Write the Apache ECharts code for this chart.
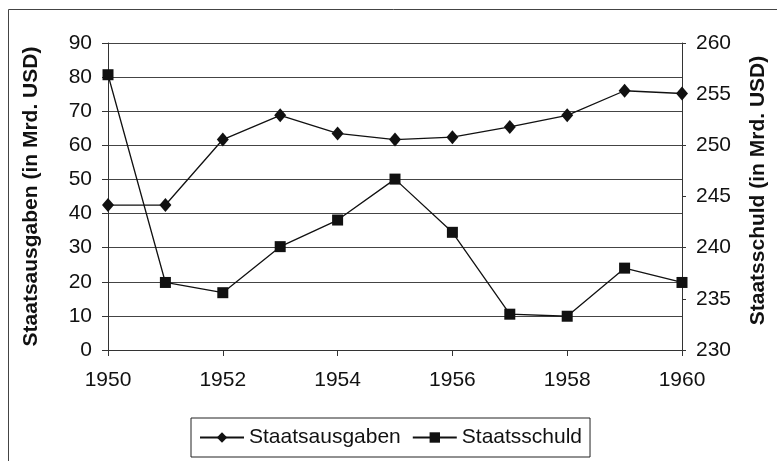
<!DOCTYPE html>
<html lang="de">
<head>
    <meta charset="UTF-8">
    <title>Staatsausgaben und Staatsschuld</title>
    <script src="https://cdn.jsdelivr.net/npm/echarts@6.0.0/dist/echarts.min.js"></script>
    <style>
        html, body { margin: 0; padding: 0; background: #fff; }
        #chart { width: 777px; height: 461px; }
    </style>
</head>
<body>
    <div id="chart"></div>
    <script>
        // Daten
        const years = [1950, 1951, 1952, 1953, 1954, 1955, 1956, 1957, 1958, 1959, 1960];
        const ausgaben = [42.5, 42.5, 61.7, 68.8, 63.5, 61.7, 62.4, 65.4, 68.8, 76.0, 75.2];
        const schuld = [256.9, 236.6, 235.6, 240.1, 242.7, 246.7, 241.5, 233.5, 233.3, 238.0, 236.6];

        const font = 'Liberation Sans, Arial, sans-serif';
        const chart = echarts.init(document.getElementById('chart'));

        const option = {
            animation: false,
            backgroundColor: '#fff',
            graphic: [{
                type: 'rect',
                shape: { x: 8.5, y: 9.5, width: 780, height: 460 },
                style: { fill: 'none', stroke: '#444', lineWidth: 1 }
            }],
            grid: { left: 108, right: 95, top: 43, bottom: 111, outerBoundsMode: 'none' },
            legend: {
                left: 191,
                top: 418,
                padding: [9, 8, 9, 8],
                itemGap: 11,
                itemWidth: 44,
                itemHeight: 13,
                borderColor: '#222',
                borderWidth: 1,
                textStyle: { fontFamily: font, fontSize: 21, color: '#111' },
                data: ['Staatsausgaben', 'Staatsschuld']
            },
            xAxis: {
                type: 'value',
                min: 1950,
                max: 1960,
                interval: 2,
                axisLine: { lineStyle: { color: '#333', width: 1 } },
                axisTick: { length: 6, lineStyle: { color: '#333' } },
                axisLabel: {
                    fontFamily: font, fontSize: 21, color: '#111', margin: 20,
                    formatter: v => String(v)
                },
                splitLine: { show: false }
            },
            yAxis: [{
                type: 'value',
                min: 0,
                max: 90,
                interval: 10,
                name: 'Staatsausgaben (in Mrd. USD)',
                nameLocation: 'middle',
                nameGap: 66,
                nameTextStyle: { fontFamily: font, fontSize: 21, fontWeight: 'bold', color: '#111' },
                axisLine: { show: true, lineStyle: { color: '#333' } },
                axisTick: { show: true, length: 6, lineStyle: { color: '#333' } },
                axisLabel: { fontFamily: font, fontSize: 21, color: '#111', margin: 16 },
                splitLine: { lineStyle: { color: '#444', width: 1 } }
            }, {
                type: 'value',
                min: 230,
                max: 260,
                interval: 5,
                name: 'Staatsschuld (in Mrd. USD)',
                nameLocation: 'middle',
                nameGap: 66,
                nameRotate: 90,
                nameTextStyle: {
                    fontFamily: font, fontSize: 21, fontWeight: 'bold', color: '#111',
                    padding: [0, 0, 0, 12]
                },
                axisLine: { show: true, lineStyle: { color: '#333' } },
                axisTick: { show: true, length: 4, lineStyle: { color: '#333' } },
                axisLabel: { fontFamily: font, fontSize: 21, color: '#111', margin: 14 },
                splitLine: { show: false }
            }],
            series: [{
                name: 'Staatsausgaben',
                type: 'line',
                yAxisIndex: 0,
                data: years.map((y, i) => [y, ausgaben[i]]),
                symbol: 'diamond',
                symbolSize: [12, 14],
                itemStyle: { color: '#111' },
                lineStyle: { color: '#111', width: 1.3 }
            }, {
                name: 'Staatsschuld',
                type: 'line',
                yAxisIndex: 1,
                data: years.map((y, i) => [y, schuld[i]]),
                symbol: 'rect',
                symbolSize: 11,
                itemStyle: { color: '#111' },
                lineStyle: { color: '#111', width: 1.3 }
            }]
        };

        chart.setOption(option);
    </script>
</body>
</html>
